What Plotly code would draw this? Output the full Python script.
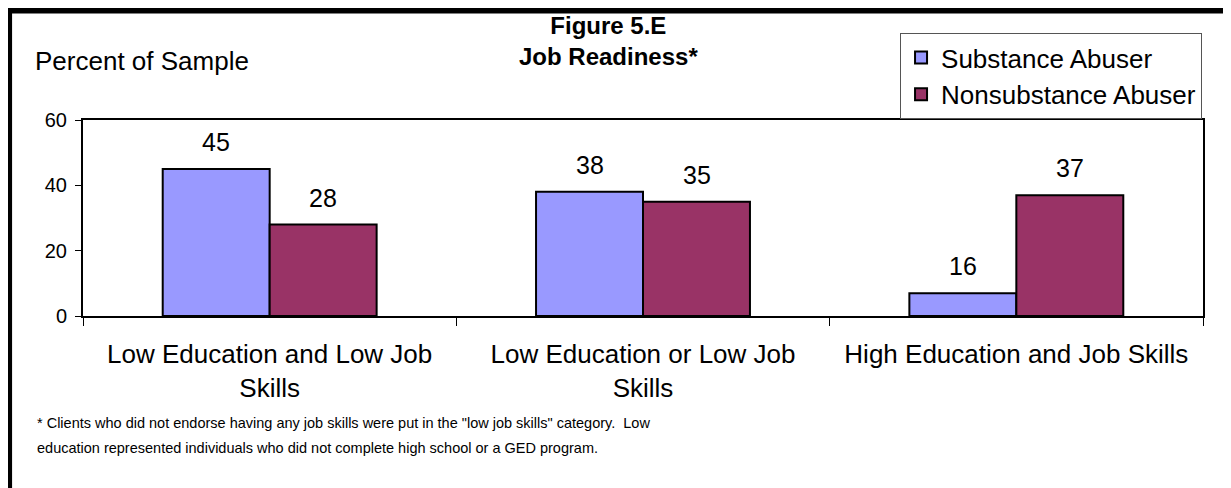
import plotly.graph_objects as go

## Data
categories = ['Low Education and Low Job<br>Skills', 'Low Education or Low Job<br>Skills',
              'High Education and Job Skills']
# bar heights as drawn in the picture (the third lavender bar is drawn short of its label)
substance = [45, 38, 7]
nonsubstance = [28, 35, 37]
substance_labels = ['45', '38', '16']
nonsubstance_labels = ['28', '35', '37']
series_names = ['Substance Abuser', 'Nonsubstance Abuser']
yticks = [0, 20, 40, 60]
footnote = ['* Clients who did not endorse having any job skills were put in the "low job skills" category.  Low',
            'education represented individuals who did not complete high school or a GED program.']

COLORS = ['#9999FF', '#993366']
FONT = 'Liberation Sans, Arial, sans-serif'

fig = go.Figure()
for name, vals, col in zip(series_names, [substance, nonsubstance], COLORS):
    fig.add_trace(go.Bar(
        x=categories, y=vals, name=name,
        marker=dict(color=col, line=dict(color='black', width=2)),
        hoverinfo='x+y'))

# value labels sitting above each bar
offsets = [-53.5, 53.5]
for vals, labs, dx in zip([substance, nonsubstance], [substance_labels, nonsubstance_labels], offsets):
    for c, v, t in zip(categories, vals, labs):
        fig.add_annotation(x=c, y=v, text=t, showarrow=False,
                           xshift=dx, yshift=11, yanchor='bottom',
                           font=dict(size=25, color='black', family=FONT))

# title, y label, footnote
fig.add_annotation(xref='paper', yref='paper', x=0.469, y=1.403,
                   text='<b>Figure 5.E</b><br><b>Job Readiness*</b>',
                   showarrow=False, xanchor='center', yanchor='middle',
                   font=dict(size=24, color='black', family=FONT))
fig.add_annotation(xref='paper', yref='paper', x=-0.0446, y=1.301,
                   text='Percent of Sample', showarrow=False,
                   xanchor='left', yanchor='middle',
                   font=dict(size=26, color='black', family=FONT))
for line, ypos in zip(footnote, [-0.546, -0.673]):
    fig.add_annotation(xref='paper', yref='paper', x=-0.043, y=ypos,
                       text=line, showarrow=False, xanchor='left', yanchor='middle',
                       font=dict(size=14.5, color='black', family=FONT))

# outer frame: only the left and top edges fall inside the picture
fig.add_shape(type='path', xref='paper', yref='paper',
              path='M -0.066,-1.2 L -0.066,1.5587 L 1.2,1.5587',
              line=dict(color='black', width=6))

# page body has an 8px margin, so the figure is drawn 8px smaller
fig.update_layout(
    width=1223, height=480,
    margin=dict(l=75, r=28, t=112, b=172),
    paper_bgcolor='white', plot_bgcolor='white',
    barmode='group', bargap=0.427, bargroupgap=0,
    font=dict(family=FONT, color='black'),
    legend=dict(x=0.7295, y=1.444, xanchor='left', yanchor='top',
                bordercolor='#555555', borderwidth=1, bgcolor='white',
                font=dict(size=26, color='black'),
                itemsizing='constant', tracegroupgap=0),
    showlegend=True,
    xaxis=dict(showline=True, linecolor='black', linewidth=2, mirror=True,
               ticks='outside', tickson='boundaries', ticklen=8, tickcolor='black',
               tickfont=dict(size=26, color='black'), ticklabelstandoff=14,
               showgrid=False, automargin=False),
    yaxis=dict(range=[0, 60], tickvals=yticks, showline=True, linecolor='black',
               linewidth=2, mirror=True, ticks='outside', ticklen=6, tickcolor='black',
               tickfont=dict(size=20, color='black'), ticklabelstandoff=4,
               showgrid=False, zeroline=False, automargin=False),
)

fig.write_html('out.html')
